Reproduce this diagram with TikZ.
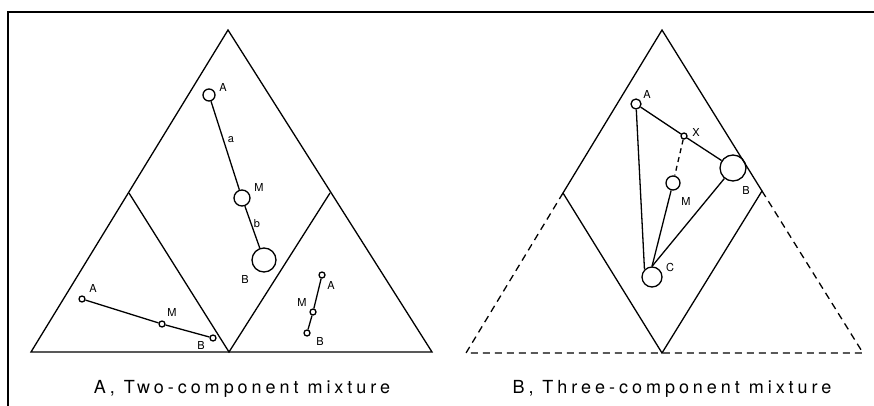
\documentclass[tikz,border=0pt]{standalone}
\usepackage{fontspec}
\setmainfont{TeX Gyre Heros}
\newfontfamily\capfont[LetterSpace=22]{TeX Gyre Heros}
\usetikzlibrary{calc}

\begin{document}
\begin{tikzpicture}[x=1pt, y=-1pt, line width=1.3pt,
		pt/.style={draw, circle, inner sep=0pt, line width=1.3pt},
		lbl/.style={font=\fontsize{11}{11}\selectfont, inner sep=0pt},
		captxt/.style={font=\fontsize{18}{18}\selectfont\capfont, anchor=base},
		dsh/.style={dash pattern=on 7pt off 5pt}]
			\useasboundingbox (0,0) rectangle (874,406);
			% frame
			\draw[line width=1.8pt] (8,406) -- (8,12) -- (874,12);
			
			% panel A
			\coordinate (Lt) at (228,30);
			\coordinate (Ll) at (31,352);
			\coordinate (Lr) at (432,352);
			\coordinate (Lb) at (229,352);
			\coordinate (Lm1) at (129,193);
			\coordinate (Lm2) at (330,193);
			\draw (Lt) -- (Ll) -- (Lr) -- cycle;
			\draw (Lm1) -- (Lb) -- (Lm2);
			
			\node[pt, minimum size=12pt] (a1) at (209,95) {};
			\node[pt, minimum size=16pt] (m1) at (242,198) {};
			\node[pt, minimum size=24pt] (b1) at (264,260) {};
			\node[lbl] at (223,87) {A};
			\node[lbl] at (259,187) {M};
			\node[lbl] at (245,279) {B};
			\node[lbl] at (231,140) {a};
			\node[lbl] at (257,224) {b};
			\draw (a1) -- (m1);
			\draw (m1) -- (b1);
			
			\node[pt, minimum size=6pt] (a2) at (82,299) {};
			\node[pt, minimum size=6pt] (m2) at (162,324) {};
			\node[pt, minimum size=6pt] (b2) at (213,338) {};
			\node[lbl] at (93,288) {A};
			\node[lbl] at (172,312) {M};
			\node[lbl] at (201,345) {B};
			\draw (a2) -- (m2) -- (b2);
			
			\node[pt, minimum size=6pt] (a3) at (322,275) {};
			\node[pt, minimum size=6pt] (m3) at (313,312) {};
			\node[pt, minimum size=6pt] (b3) at (307,333) {};
			\node[lbl] at (331,285) {A};
			\node[lbl] at (302,302) {M};
			\node[lbl] at (320,341) {B};
			\draw (a3) -- (m3) -- (b3);
			
			\node[captxt] (capA) at (242,393) {A, Two-component mixture};
			
			% panel B
			\coordinate (Rt) at (662,30);
			\coordinate (Rl) at (466,353);
			\coordinate (Rr) at (863,353);
			\coordinate (Rb) at (662,353);
			\coordinate (Rm1) at (563,193);
			\coordinate (Rm2) at (762,191);
			\draw (Rt) -- (Rm1) -- (Rb) -- (Rm2) -- cycle;
			\draw[dsh] (Rm1) -- (Rl) -- (Rr) -- (Rm2);
			
			\node[pt, minimum size=10pt] (a4) at (636,104) {};
			\node[pt, minimum size=6pt] (x4) at (684,136) {};
			\node[pt, minimum size=14pt] (m4) at (673,183) {};
			\node[pt, minimum size=26pt] (b4) at (733,168) {};
			\node[pt, minimum size=20pt] (c4) at (652,277) {};
			\node[lbl] at (647,94) {A};
			\node[lbl] at (696,132) {X};
			\node[lbl] at (686,201) {M};
			\node[lbl] at (746,190) {B};
			\node[lbl] at (670,267) {C};
			\draw (a4) -- (x4) -- (b4);
			\draw (a4) -- (c4.north west);
			\draw (m4) -- (c4.north);
			\draw (b4) -- (c4.north);
			\draw[dash pattern=on 5pt off 4pt] (x4) -- (m4);
			
			\node[captxt] (capB) at (672,393) {B, Three-component mixture};
		\end{tikzpicture}
\end{document}
